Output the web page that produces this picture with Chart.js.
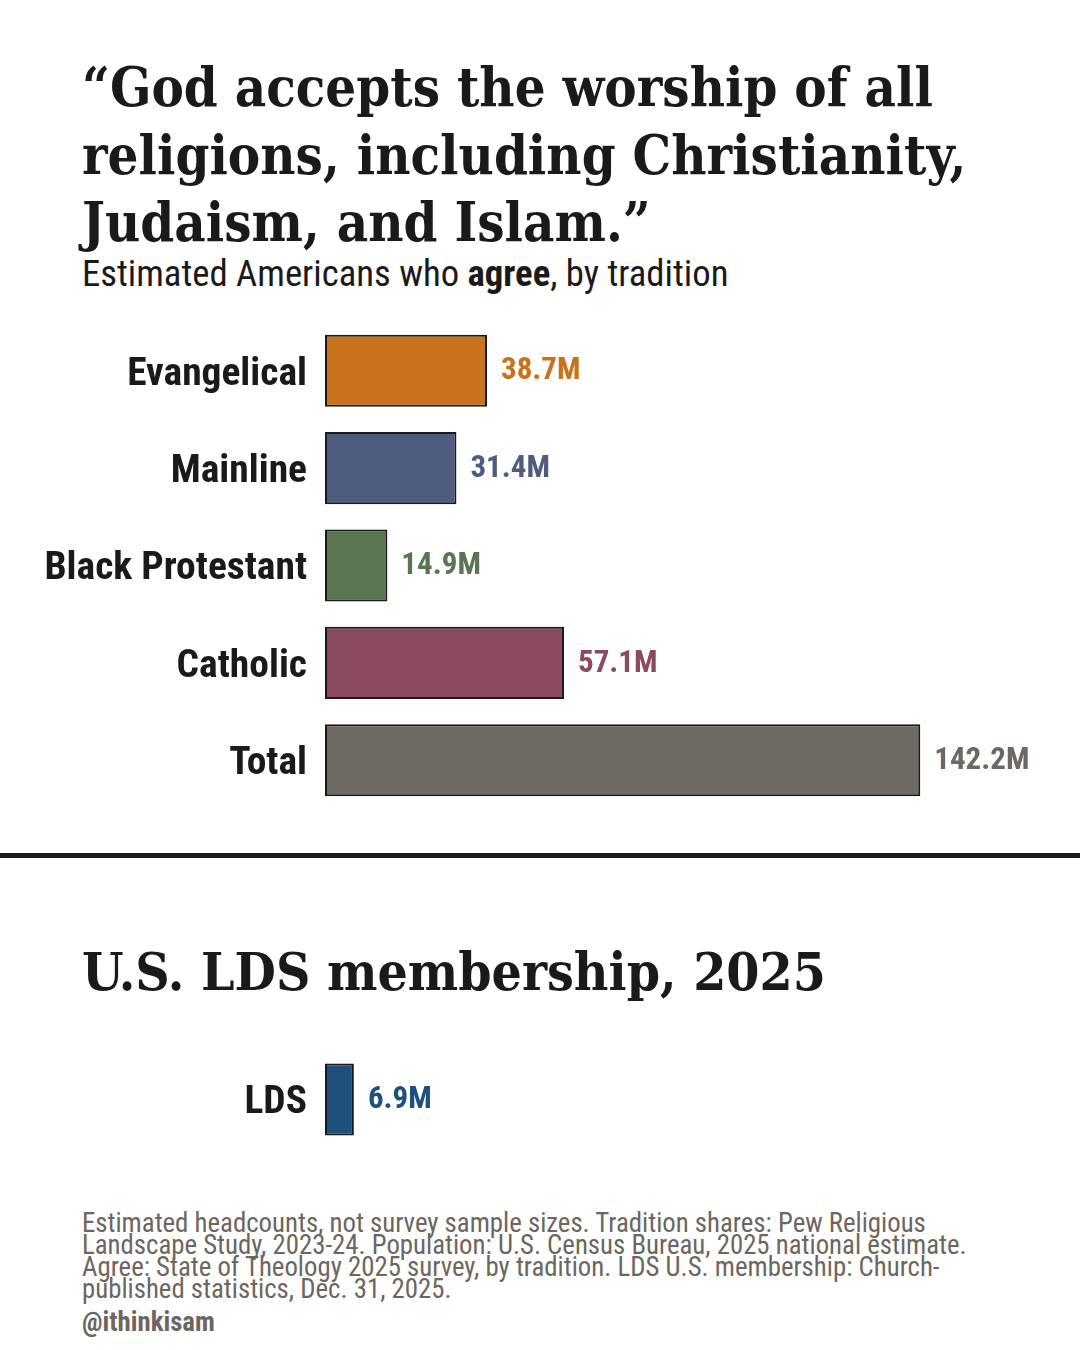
<!DOCTYPE html>
<html lang="en">
<head>
<meta charset="UTF-8">
<title>God accepts the worship of all religions</title>
<script src="https://cdn.jsdelivr.net/npm/chart.js"></script>
<style>
    body {
        margin: 0;
        width: 1080px;
        height: 1350px;
        background: #fff;
        position: relative;
        overflow: hidden;
        font-family: "Roboto Condensed", Roboto, sans-serif;
        color: #1a1a1a;
    }
    .serif-title {
        position: absolute;
        left: 82px;
        margin: 0;
        font-family: "Roboto Slab", "DejaVu Serif Condensed", "DejaVu Serif", serif;
        font-weight: 700;
        font-size: 54px;
        line-height: 67.5px;
        white-space: nowrap;
    }
    #title { top: 54px; }
    #ldsTitle { top: 938px; font-size: 53px; }
    #subtitle {
        position: absolute;
        left: 82px;
        top: 256px;
        font-size: 36.7px;
        line-height: 36px;
        font-weight: 400;
        white-space: nowrap;
    }
    .divider {
        position: absolute;
        left: 0;
        top: 853px;
        width: 1080px;
        height: 5px;
        background: #1a1a1a;
    }
    .chart-box {
        position: absolute;
        left: 0;
        width: 1080px;
    }
    #box1 { top: 322px; height: 487px; }
    #box2 { top: 1051px; height: 97px; }
    #notes {
        position: absolute;
        left: 82px;
        top: 1212px;
        font-size: 26.8px;
        line-height: 22px;
        color: #6b6660;
        white-space: nowrap;
    }
    #handle {
        position: absolute;
        left: 82px;
        top: 1306px;
        font-size: 26.8px;
        font-weight: 700;
        color: #6b6660;
    }
</style>
</head>
<body>
    <h1 id="title" class="serif-title">“God accepts the worship of all<br>religions, including Christianity,<br>Judaism, and Islam.”</h1>
    <div id="subtitle">Estimated Americans who <b>agree</b>, by tradition</div>

    <div id="box1" class="chart-box"><canvas id="traditionChart"></canvas></div>

    <div class="divider"></div>

    <h2 id="ldsTitle" class="serif-title">U.S. LDS membership, 2025</h2>

    <div id="box2" class="chart-box"><canvas id="ldsChart"></canvas></div>

    <div id="notes">Estimated headcounts, not survey sample sizes. Tradition shares: Pew Religious<br>Landscape Study, 2023-24. Population: U.S. Census Bureau, 2025 national estimate.<br>Agree: State of Theology 2025 survey, by tradition. LDS U.S. membership: Church-<br>published statistics, Dec. 31, 2025.</div>
    <div id="handle">@ithinkisam</div>

<script>
    // values in millions of people
    const traditions = ['Evangelical', 'Mainline', 'Black Protestant', 'Catholic', 'Total'];
    const agreeMillions = [38.7, 31.4, 14.9, 57.1, 142.2];
    const traditionColors = ['#c8721c', '#4e5c7e', '#5a7552', '#8b4a5e', '#6d6862'];

    const ldsLabels = ['LDS'];
    const ldsMillions = [6.9];
    const ldsColors = ['#1f4f7b'];

    const X_MAX = 172;
    const AXIS_WIDTH = 325;

    // "38.7M" style labels just past the end of each bar
    const valueLabels = {
        id: 'valueLabels',
        afterDatasetsDraw(chart) {
            const ctx = chart.ctx;
            const ds = chart.data.datasets[0];
            const meta = chart.getDatasetMeta(0);
            ctx.save();
            ctx.font = '700 31px "Roboto Condensed", Roboto, sans-serif';
            ctx.textBaseline = 'middle';
            ctx.textAlign = 'left';
            meta.data.forEach((bar, i) => {
                ctx.fillStyle = ds.backgroundColor[i];
                ctx.fillText(ds.data[i].toFixed(1) + 'M', bar.x + 14, bar.y + 1);
            });
            ctx.restore();
        }
    };

    function makeChart(canvasId, labels, values, colors) {
        return new Chart(document.getElementById(canvasId), {
            type: 'bar',
            data: {
                labels: labels,
                datasets: [{
                    data: values,
                    backgroundColor: colors,
                    borderColor: '#1a1a1a',
                    borderWidth: 2,
                    borderSkipped: false,
                    categoryPercentage: 0.74,
                    barPercentage: 1
                }]
            },
            options: {
                indexAxis: 'y',
                animation: false,
                responsive: true,
                maintainAspectRatio: false,
                events: [],
                layout: { padding: { left: 0, right: 35, top: 0, bottom: 0 } },
                plugins: {
                    legend: { display: false },
                    tooltip: { enabled: false }
                },
                scales: {
                    x: {
                        display: false,
                        min: 0,
                        max: X_MAX
                    },
                    y: {
                        grid: { display: false },
                        border: { display: false },
                        ticks: {
                            color: '#1a1a1a',
                            padding: 10,
                            labelOffset: 4,
                            font: { family: '"Roboto Condensed", Roboto, sans-serif', weight: '700', size: 39.5 }
                        },
                        afterFit(scale) {
                            scale.width = AXIS_WIDTH;
                            scale.paddingTop = 0;
                            scale.paddingBottom = 0;
                        }
                    }
                }
            },
            plugins: [valueLabels]
        });
    }

    makeChart('traditionChart', traditions, agreeMillions, traditionColors);
    makeChart('ldsChart', ldsLabels, ldsMillions, ldsColors);
</script>
</body>
</html>
